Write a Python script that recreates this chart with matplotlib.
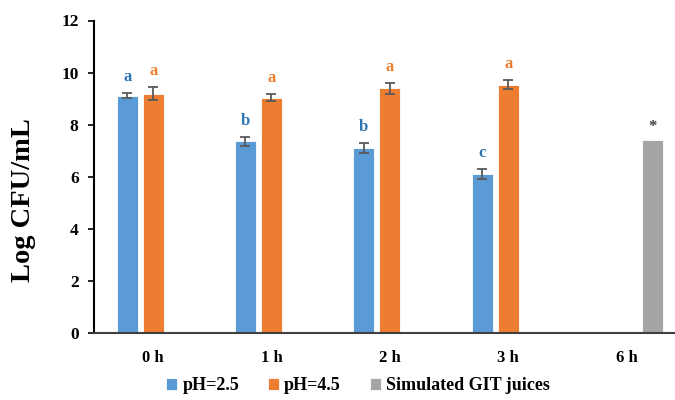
import numpy as np
import matplotlib.pyplot as plt

times = ["0 h", "1 h", "2 h", "3 h", "6 h"]
ph25 = [9.12, 7.36, 7.09, 6.09, np.nan]
ph25_err = [0.08, 0.17, 0.19, 0.19, np.nan]
ph45 = [9.18, 9.04, 9.39, 9.54, np.nan]
ph45_err = [0.25, 0.13, 0.20, 0.17, np.nan]
git = [np.nan, np.nan, np.nan, np.nan, 7.43]
ph25_letters = ["a", "b", "b", "c", ""]
ph45_letters = ["a", "a", "a", "a", ""]
git_marks = ["", "", "", "", "*"]

blue, orange, grey = "#5B9BD5", "#ED7D31", "#A5A5A5"

plt.rcParams['font.family'] = ['Liberation Serif', 'DejaVu Serif']
plt.rcParams['font.weight'] = 'bold'

fig = plt.figure(figsize=(6.75, 4), dpi=100)
ax = fig.add_axes([94 / 675, 67 / 400, 1 - 94 / 675, 312.5 / 400])

x = np.arange(len(times))
w = 0.178
off = 0.22
ekw = dict(ecolor="#595959", elinewidth=1.3, capthick=1.3)
ax.bar(x - off, ph25, w, yerr=ph25_err, capsize=3.5, color=blue,
       edgecolor="white", linewidth=0.6, error_kw=ekw, label="pH=2.5")
ax.bar(x, ph45, w, yerr=ph45_err, capsize=3.5, color=orange,
       edgecolor="white", linewidth=0.6, error_kw=ekw, label="pH=4.5")
ax.bar(x + off, git, w, color=grey, edgecolor="white", linewidth=0.6,
       label="Simulated GIT juices")

for i in x:
    if ph25_letters[i]:
        ax.annotate(ph25_letters[i], (i - off, ph25[i] + ph25_err[i]),
                    xytext=(0, 6), textcoords="offset points", ha="center",
                    va="bottom", color="#2E75B6", fontsize=12, fontweight="bold")
    if ph45_letters[i]:
        ax.annotate(ph45_letters[i], (i, ph45[i] + ph45_err[i]),
                    xytext=(0, 6), textcoords="offset points", ha="center",
                    va="bottom", color=orange, fontsize=12, fontweight="bold")
    if git_marks[i]:
        ax.annotate(git_marks[i], (i + off, git[i]),
                    xytext=(0, 3), textcoords="offset points", ha="center",
                    va="bottom", color="#404040", fontsize=12, fontweight="bold")

ax.set_xlim(-0.5, 4.41)
ax.set_ylim(0, 12)
ax.set_yticks(range(0, 13, 2))
ax.set_xticks(x)
ax.set_xticklabels(times)
ax.tick_params(axis="x", length=0, pad=12, labelsize=12)
ax.tick_params(axis="y", length=4, width=1.2, direction="out", labelsize=12.5, pad=7)
for lab in ax.get_xticklabels() + ax.get_yticklabels():
    lab.set_fontweight("bold")
ax.spines["top"].set_visible(False)
ax.spines["right"].set_visible(False)
ax.spines["left"].set_linewidth(1.5)
ax.spines["bottom"].set_linewidth(1.5)
ax.spines["bottom"].set_color("#404040")
fig.text(24 / 675, 1 - 200 / 400, "Log CFU/mL", rotation=90, ha="center",
         va="center", fontsize=20.5, fontweight="bold")

fig.legend(loc="center", bbox_to_anchor=(358 / 675, 1 - 386 / 400), ncol=3,
           frameon=False, prop={"size": 13, "weight": "bold"},
           handlelength=0.6, handleheight=0.6, handletextpad=0.3,
           columnspacing=1.6)

fig.savefig("out.png", dpi=100)
